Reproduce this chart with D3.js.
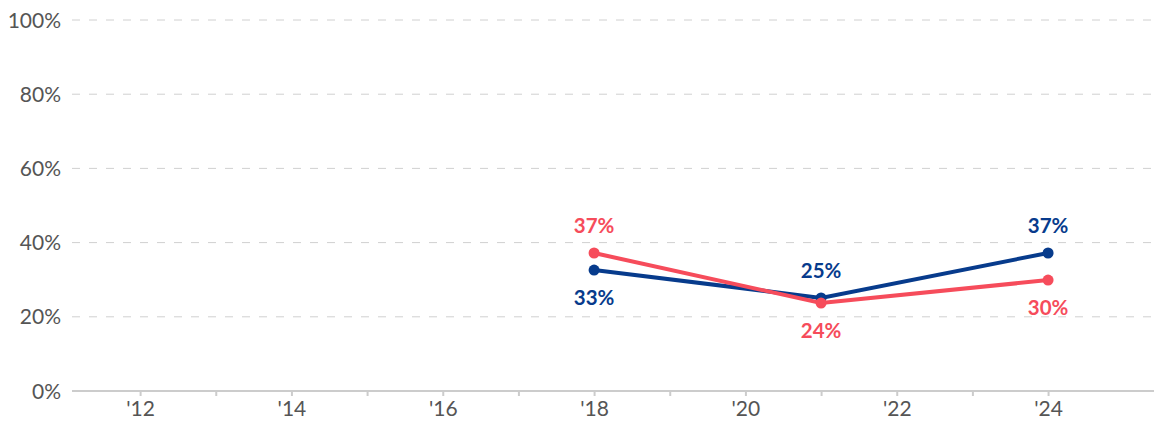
<!DOCTYPE html>
<html><head><meta charset="utf-8">
<script src="https://cdn.jsdelivr.net/npm/d3@7"></script>
<style>body{margin:0;background:#fff;font-family:Lato,"Open Sans",sans-serif;}</style>
</head><body><svg id="c" width="1154" height="421"></svg>
<script>
const years = [2018, 2021, 2024];
const seriesBlue = [32.6, 25.1, 37.2];
const seriesRed = [37.2, 23.7, 29.9];
const blueLabels = ["33%", "25%", "37%"];
const redLabels = ["37%", "24%", "30%"];
const blueLabelPos = ["below", "above", "above"];
const redLabelPos = ["above", "below", "below"];
const yTicks = [0, 20, 40, 60, 80, 100];
const xTickYears = [2012, 2014, 2016, 2018, 2020, 2022, 2024];
const xMinorYears = [2013, 2015, 2017, 2019, 2021, 2023];

const svg = d3.select("#c");
const x = d3.scaleLinear().domain([2011.1, 2025.4]).range([72, 1154]);
const y = d3.scaleLinear().domain([0, 100]).range([391, 20]);

const grid = svg.append("g");
grid.selectAll("line").data(yTicks.filter(d => d > 0)).join("line")
  .attr("x1", 72).attr("x2", 1154)
  .attr("y1", d => y(d)).attr("y2", d => y(d))
  .attr("stroke", "#d0d0d0").attr("stroke-width", 1).attr("stroke-dasharray", "8,9");

svg.append("g").selectAll("text").data(yTicks).join("text")
  .attr("x", 61).attr("y", d => y(d)).attr("dy", "0.36em")
  .attr("text-anchor", "end").attr("fill", "#555").attr("font-size", 21)
  .text(d => d + "%");

const xAxis = d3.axisBottom(x).tickValues(xTickYears.concat(xMinorYears).sort())
  .tickSize(5).tickPadding(5)
  .tickFormat(d => xTickYears.includes(d) ? "'" + String(d).slice(2) : "");
const gx = svg.append("g").attr("transform", `translate(0,${y(0)})`).call(xAxis);
gx.select(".domain").remove();
gx.selectAll(".tick line").attr("stroke", "#ccc").attr("stroke-width", 2);
gx.selectAll(".tick text").attr("fill", "#555").attr("font-size", 21).attr("font-family", "Lato");
svg.append("line").attr("x1", 72).attr("x2", 1154).attr("y1", y(0)).attr("y2", y(0))
  .attr("stroke", "#ccc").attr("stroke-width", 2);

function drawSeries(vals, labels, pos, color) {
  const pts = years.map((yr, i) => [yr, vals[i]]);
  svg.append("path").datum(pts)
    .attr("d", d3.line().x(d => x(d[0])).y(d => y(d[1])))
    .attr("fill", "none").attr("stroke", color).attr("stroke-width", 4);
  svg.append("g").selectAll("circle").data(pts).join("circle")
    .attr("cx", d => x(d[0])).attr("cy", d => y(d[1])).attr("r", 5.5).attr("fill", color);
  svg.append("g").selectAll("text").data(pts).join("text")
    .attr("x", d => x(d[0]))
    .attr("y", (d, i) => y(d[1]) + (pos[i] === "above" ? -27 : 28))
    .attr("dy", "0.36em").attr("text-anchor", "middle")
    .attr("fill", color).attr("font-size", 20.5).attr("font-weight", "bold")
    .text((d, i) => labels[i]);
}
drawSeries(seriesBlue, blueLabels, blueLabelPos, "#073b8c");
drawSeries(seriesRed, redLabels, redLabelPos, "#f64c5b");
</script></body></html>
